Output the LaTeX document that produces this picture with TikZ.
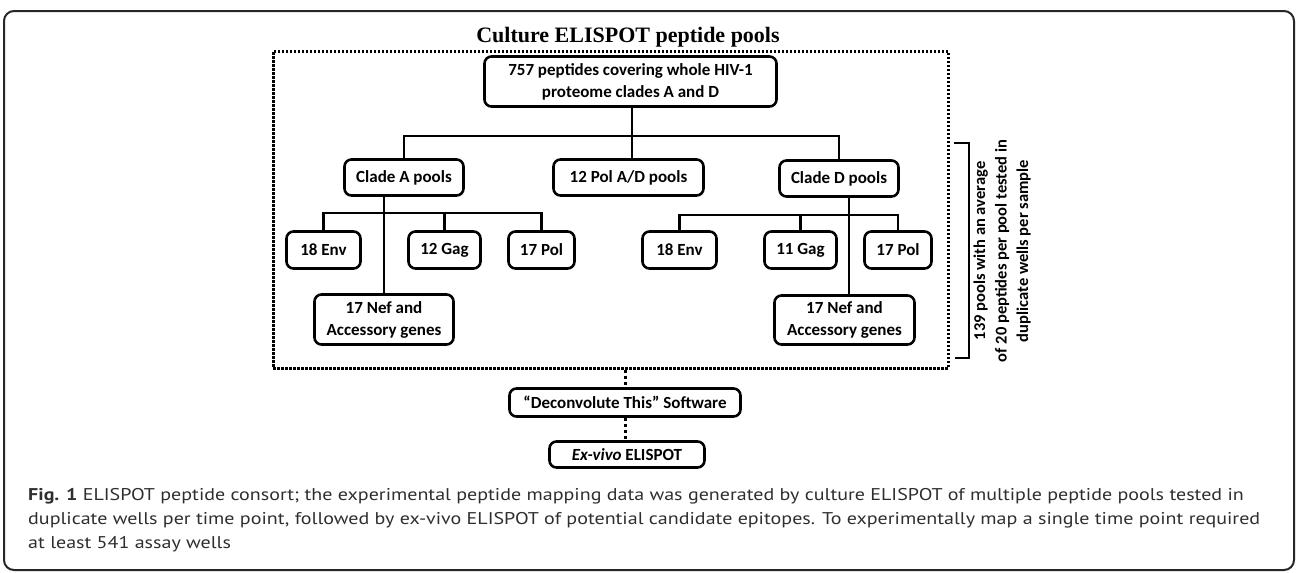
\documentclass[tikz,border=0pt]{standalone}
\usepackage{fontspec}
\usepackage{graphicx}
\setmainfont{Carlito}
\newfontfamily\titlefont{Liberation Serif}
\newfontfamily\capfont{PT Sans}
\newsavebox\capmeasure
\begin{document}
\sbox\capmeasure{\capfont\fontsize{17}{24}\selectfont duplicate wells per time point, followed by ex-vivo ELISPOT of potential candidate epitopes. To experimentally map a single time point required}%
\pgfmathsetmacro\capfactor{1232/\the\wd\capmeasure}%
\begin{tikzpicture}[x=1pt,y=-1pt,
  box/.style={draw, line width=2.6pt, rounded corners=7pt, inner sep=0pt,
    font=\fontsize{17}{22}\selectfont\bfseries, align=center},
  conn/.style={line width=2.6pt},
  dotconn/.style={line width=3pt, dash pattern=on 3pt off 3pt},
  dotbox/.style={draw, line width=3pt, dash pattern=on 2.5pt off 1.5pt, inner sep=0pt},
  captext/.style={anchor=base west, inner sep=0pt, text=black!82,
    font=\capfont\fontsize{17}{24}\selectfont},
]
\useasboundingbox (0,0) rectangle (1296,573);
% outer frame
\draw[line width=2pt, black!85, rounded corners=10pt] (4,11) rectangle (1294,570);

% title and dotted box
\node[anchor=base, inner sep=0pt, font=\titlefont\bfseries\fontsize{22}{26}\selectfont] (title) at (628,42) {Culture ELISPOT peptide pools};
\node[dotbox, minimum width=675pt, minimum height=317pt] (pools) at (610.5,209.5) {};

% boxes
\node[box, minimum width=292pt, minimum height=50pt] (top) at (630.5,81.5) {757 peptides covering whole HIV-1\\proteome clades A and D};
\node[box, minimum width=119pt, minimum height=36pt] (cladeA) at (404,177.5) {Clade A pools};
\node[box, minimum width=150pt, minimum height=36pt] (pol12) at (628.5,177.5) {12 Pol A/D pools};
\node[box, minimum width=119pt, minimum height=36pt] (cladeD) at (839,178.5) {Clade D pools};

\node[box, minimum width=74pt, minimum height=37pt] (envA) at (323.5,250) {18 Env};
\node[box, minimum width=72pt, minimum height=37pt] (gagA) at (444.5,250) {12 Gag};
\node[box, minimum width=66pt, minimum height=37pt] (polA) at (541.5,250) {17 Pol};
\node[box, minimum width=139pt, minimum height=50pt] (nefA) at (384,319.5) {17 Nef and\\Accessory genes};

\node[box, minimum width=74pt, minimum height=37pt] (envD) at (679.5,250) {18 Env};
\node[box, minimum width=72pt, minimum height=37pt] (gagD) at (800.5,250) {11 Gag};
\node[box, minimum width=67pt, minimum height=37pt] (polD) at (898,250) {17 Pol};
\node[box, minimum width=140pt, minimum height=49pt] (nefD) at (844.5,320) {17 Nef and\\Accessory genes};

\node[box, minimum width=231pt, minimum height=28pt] (decon) at (625,402.5) {“Deconvolute This” Software};
\node[box, minimum width=155pt, minimum height=26pt] (exvivo) at (627,454.5) {\textit{Ex-vivo} ELISPOT};

% connectors
\coordinate (j0) at (632,136);
\draw[conn] (top.south -| j0) -- (j0 |- pol12.north);
\draw[conn] (cladeA.north) |- (cladeD.north |- j0) -- (cladeD.north);

\coordinate (ja) at (384,213);
\draw[conn] (cladeA.south -| ja) -- (ja |- nefA.north);
\draw[conn] (envA.north) |- (polA.north |- ja) -- (polA.north);
\draw[conn] (gagA.north) -- (gagA.north |- ja);

\coordinate (jd) at (849,215);
\draw[conn] (cladeD.south -| jd) -- (jd |- nefD.north);
\draw[conn] (envD.north) |- (polD.north |- jd) -- (polD.north);
\draw[conn] (gagD.north) -- (gagD.north |- jd);

\draw[dotconn] (pools.south -| decon.north) -- (decon.north);
\draw[dotconn] (decon.south) -- (decon.south |- exvivo.north);

% bracket and its label
\draw[line width=2.4pt] (954,143) -- (969,143) -- (969,358) -- (955,358);
\node[rotate=90, inner sep=0pt, align=center, font=\fontsize{16.5}{21.5}\selectfont\bfseries] (brtext) at (1002,251) {139 pools with an average\\of 20 peptides per pool tested in\\duplicate wells per sample};

% caption
\node[captext] (cap1) at (28,500) {\scalebox{\capfactor}[1]{\textbf{Fig. 1} ELISPOT peptide consort; the experimental peptide mapping data was generated by culture ELISPOT of multiple peptide pools tested in}};
\node[captext] (cap2) at (28,524) {\scalebox{\capfactor}[1]{duplicate wells per time point, followed by ex-vivo ELISPOT of potential candidate epitopes. To experimentally map a single time point required}};
\node[captext] (cap3) at (28,548) {\scalebox{\capfactor}[1]{at least 541 assay wells}};
\end{tikzpicture}
\end{document}
